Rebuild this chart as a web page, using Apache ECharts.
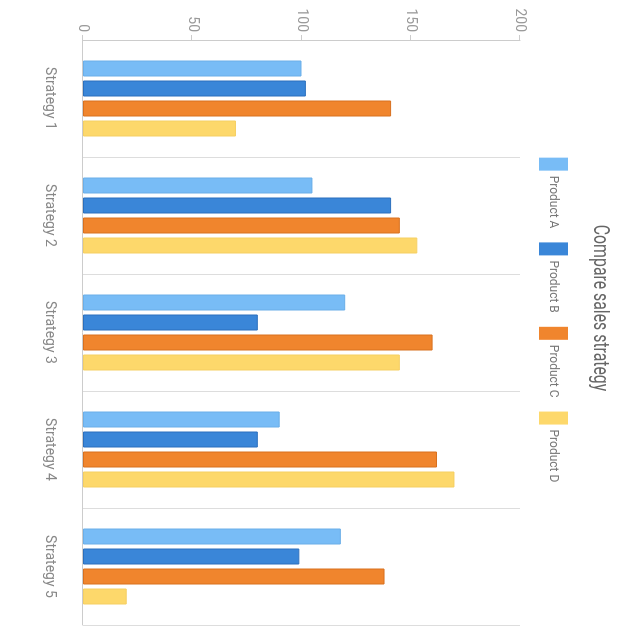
<!DOCTYPE html>
<html>
<head>
<meta charset="utf-8">
<script src="https://cdn.jsdelivr.net/npm/echarts@6/dist/echarts.min.js"></script>
<style>
  html, body { margin: 0; padding: 0; background: #fff; overflow: hidden; }
  /* the reference is the whole chart turned a quarter clockwise */
  #chart {
    position: absolute;
    left: 0;
    top: 0;
    width: 640px;
    height: 640px;
    transform-origin: 0 0;
    transform: translate(640px, 0) rotate(90deg);
  }
</style>
</head>
<body>
<div id="chart"></div>
<script>
const categories = ['Strategy 1', 'Strategy 2', 'Strategy 3', 'Strategy 4', 'Strategy 5'];
const productA = [100, 105, 120, 90, 118];
const productB = [102, 141, 80, 80, 99];
const productC = [141, 145, 160, 162, 138];
const productD = [70, 153, 145, 170, 20];
const valueTicks = [0, 200, 50]; // min, max, interval

const colors = ['#78bcf6', '#3a86d8', '#f0852d', '#fdd86b'];
const borders = ['#6aaee8', '#2b6fbd', '#d8701e', '#f5cf62'];

function bar(name, data, i) {
  return {
    name: name,
    type: 'bar',
    data: data,
    barWidth: 16,
    barGap: '25%',
    itemStyle: {
      color: colors[i],
      borderColor: borders[i],
      borderWidth: 1
    }
  };
}

let chart = echarts.init(document.getElementById('chart'));
chart.setOption({
  animation: false,
  color: colors,
  graphic: [
    {
      type: 'text',
      x: 308,
      y: 40,
      scaleX: 0.72,
      style: {
        text: 'Compare sales strategy',
        fontSize: 22,
        fontFamily: 'Roboto',
        fill: '#666',
        textAlign: 'center',
        textVerticalAlign: 'middle'
      }
    }
  ],
  legend: {
    top: 72,
    left: 'center',
    padding: 0,
    icon: 'rect',
    itemWidth: 13,
    itemHeight: 29,
    itemGap: 14,
    itemStyle: { borderWidth: 0 },
    textStyle: {
      fontSize: 12,
      color: '#777',
      fontFamily: 'Roboto'
    },
    data: ['Product A', 'Product B', 'Product C', 'Product D']
  },
  grid: {
    left: 40,
    right: 15,
    top: 120,
    bottom: 83
  },
  xAxis: {
    type: 'category',
    data: categories,
    axisLine: { lineStyle: { color: '#ccc' } },
    axisTick: { length: 11, lineStyle: { color: '#ccc' } },
    splitLine: { show: true, lineStyle: { color: '#ddd' } },
    axisLabel: {
      margin: 26,
      fontSize: 14,
      color: '#888',
      fontFamily: 'Roboto'
    }
  },
  yAxis: {
    type: 'value',
    min: valueTicks[0],
    max: valueTicks[1],
    interval: valueTicks[2],
    axisLine: { show: true, lineStyle: { color: '#ccc' } },
    axisTick: { show: true, length: 5, lineStyle: { color: '#ccc' } },
    splitLine: { show: false },
    axisLabel: {
      margin: 8,
      fontSize: 14,
      color: '#999',
      fontFamily: 'Roboto'
    }
  },
  series: [
    bar('Product A', productA, 0),
    bar('Product B', productB, 1),
    bar('Product C', productC, 2),
    bar('Product D', productD, 3)
  ]
});
</script>
</body>
</html>
